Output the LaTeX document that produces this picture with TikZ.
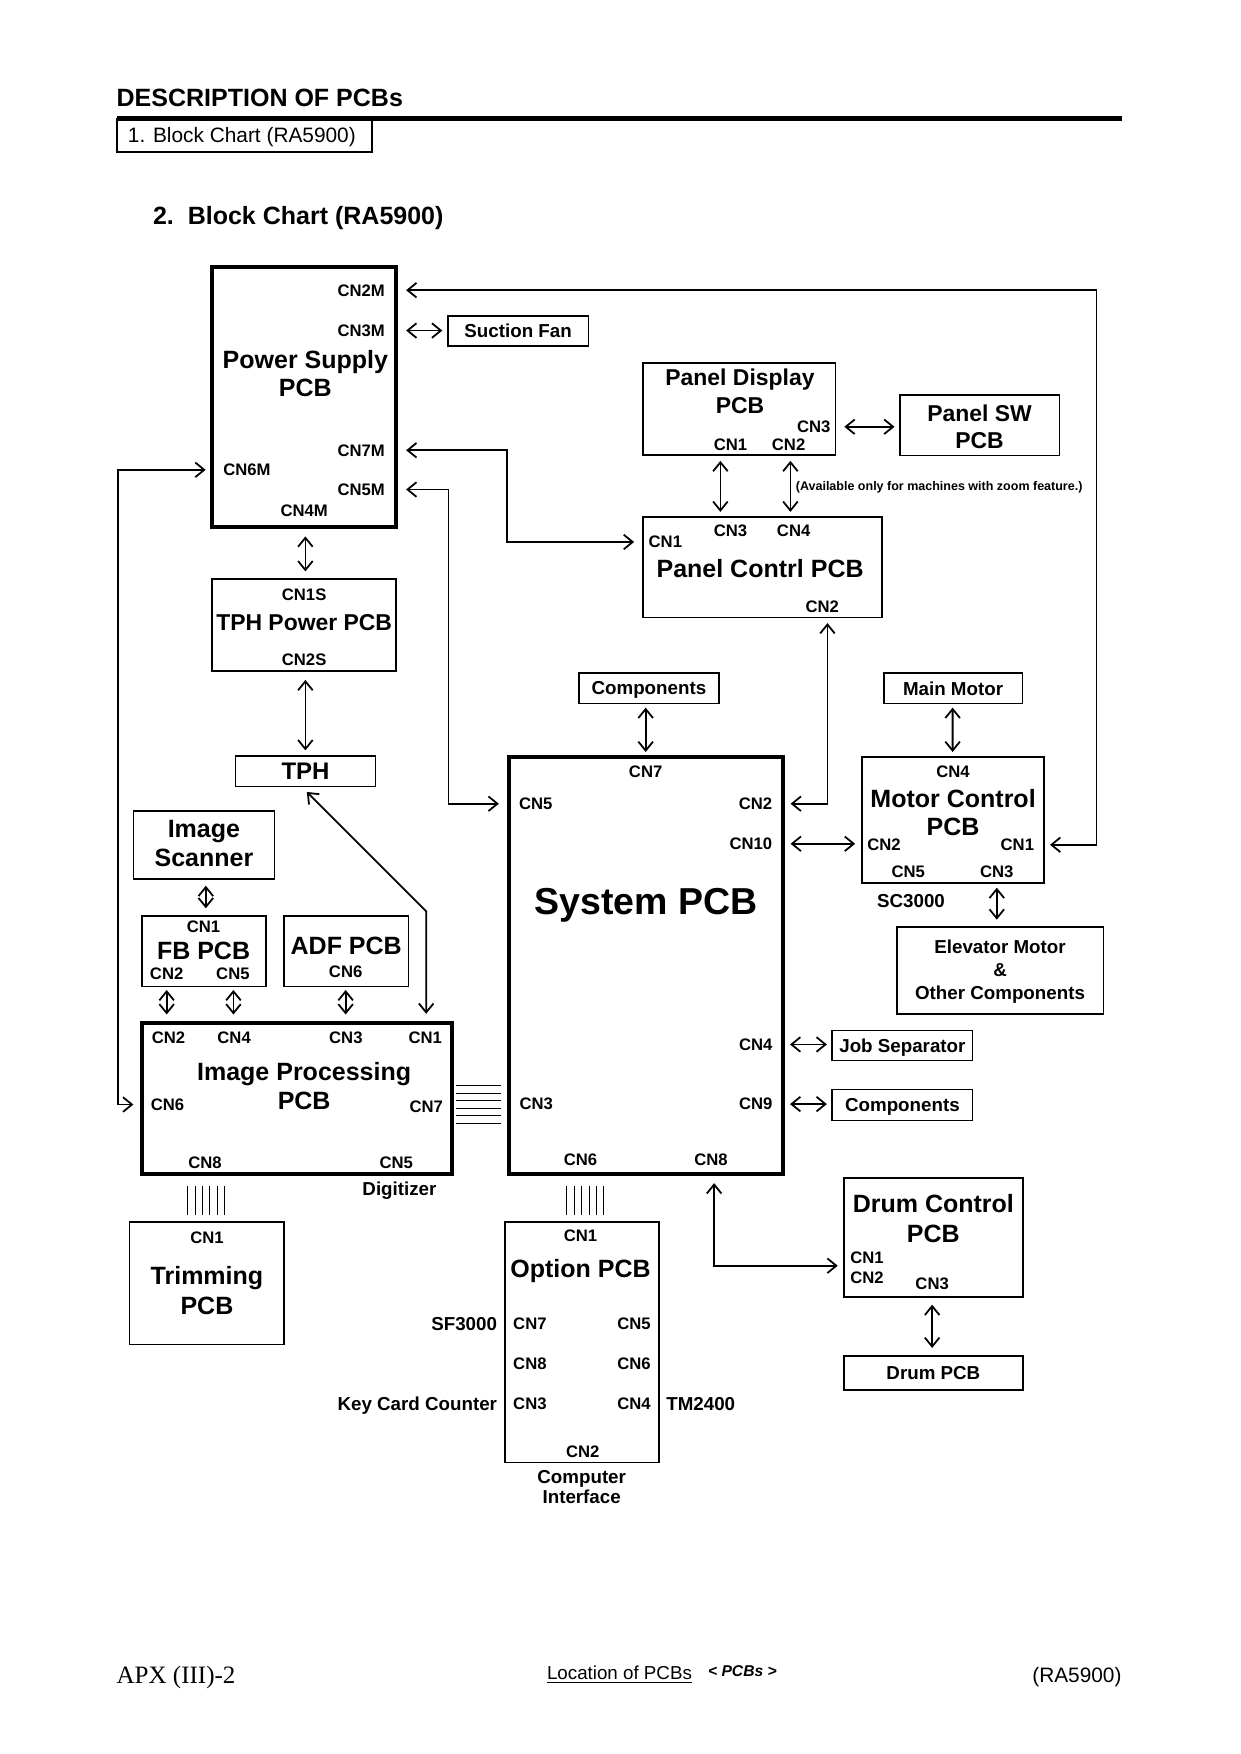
\documentclass[tikz,border=0pt]{standalone}
\usepackage{fontspec}
\setmainfont{Liberation Sans}
\newfontfamily\serifft{Liberation Serif}
\usetikzlibrary{arrows.meta,calc}
\newcommand\pxu{0.5367pt}
\tikzset{
  box/.style={draw, line width=0.8pt, inner sep=0pt, outer sep=0pt, text depth=0pt},
  tbox/.style={box, line width=1.9pt},
  sz/.style 2 args={minimum width=#1*\pxu, minimum height=#2*\pxu},
  lbl/.style={inner sep=0pt, outer sep=0pt, text depth=0pt},
  tcn/.style={lbl, font=\bfseries\fontsize{8}{9.6}\selectfont},
  tsml/.style={lbl, font=\bfseries\fontsize{9}{10.8}\selectfont},
  tmid/.style={lbl, font=\bfseries\fontsize{11}{13}\selectfont},
  tbig/.style={lbl, font=\bfseries\fontsize{12}{14}\selectfont},
  barb/.tip={Straight Barb[length=4.3pt,width=7pt]},
  con/.style={line width=0.85pt, barb-barb},
  bus/.style={line width=0.45pt},
}
\begin{document}
\begin{tikzpicture}[x=\pxu, y=-\pxu]
\useasboundingbox (0,0) rectangle (1109,1568);
% header
\node[lbl, anchor=west, font=\bfseries\fontsize{12}{14}\selectfont] (title) at (104.3,87) {DESCRIPTION OF PCBs};
\draw[line width=2pt] (104.3,106) -- (1002.6,106);
\node[box, sz={228.3}{30}] (hbox) at (218.45,121) {};
\node[lbl, anchor=west, font=\fontsize{10}{12}\selectfont] (htext) at (114.4,121) {1. Block Chart (RA5900)};
\node[lbl, anchor=west, font=\bfseries\fontsize{12}{14}\selectfont] (sub) at (136.8,193) {2.\ \ Block Chart (RA5900)};

% boxes
\node[tbox, sz={164.7}{233}] (ps) at (271.7,355) {};
\node[box, sz={125.6}{26.8}, font=\bfseries\fontsize{9}{10.8}\selectfont] (sfan) at (463.2,296) {Suction Fan};
\node[box, sz={164.7}{82}] (tphp) at (271.7,558.8) {};
\node[box, sz={125.2}{27.2}, font=\bfseries\fontsize{11.5}{13}\selectfont] (tph) at (273.1,689.4) {TPH};
\node[box, sz={126.1}{60.6}] (isc) at (182.3,755.3) {};
\node[box, sz={111.2}{62.8}] (fb) at (182.3,850.4) {};
\node[box, sz={111.5}{62.8}] (adf) at (309.5,850.4) {};
\node[tbox, sz={277.3}{134.8}] (ip) at (265.4,982) {};
\node[box, sz={138.1}{109.4}] (trim) at (184.9,1147.3) {};
\node[tbox, sz={245.3}{372.7}] (sys) at (577.6,863) {};
\node[box, sz={124.8}{27.4}, font=\bfseries\fontsize{9}{10.8}\selectfont] (compa) at (580.1,615.3) {Components};
\node[box, sz={172}{82.6}] (pd) at (660.8,365.7) {};
\node[box, sz={142.7}{53.7}] (psw) at (875.7,380.2) {};
\node[box, sz={213.7}{90}] (pc) at (681.7,507) {};
\node[box, sz={124}{27.4}, font=\bfseries\fontsize{9}{10.8}\selectfont] (mm) at (852,615.3) {Main Motor};
\node[box, sz={162.5}{112.7}] (mc) at (851.9,733) {};
\node[box, sz={184.7}{77.5}] (elev) at (894,867.5) {};
\node[box, sz={125.4}{26.8}, font=\bfseries\fontsize{9}{10.8}\selectfont] (job) at (806.7,934.6) {Job Separator};
\node[box, sz={125.4}{27.7}, font=\bfseries\fontsize{9}{10.8}\selectfont] (compb) at (806.7,987.8) {Components};
\node[box, sz={137.7}{214.7}] (opt) at (520.5,1200) {};
\node[box, sz={159.8}{106.4}] (dc) at (834.4,1106.5) {};
\node[box, sz={159.8}{30.4}, font=\bfseries\fontsize{9}{10.8}\selectfont] (drum) at (834.4,1227.1) {Drum PCB};

% power supply labels
\node[tcn, anchor=east] (cn2m) at (344,259.4) {CN2M};
\node[tcn, anchor=east] (cn3m) at (344,295.5) {CN3M};
\node[tbig] (psa) at (273,321.4) {Power Supply};
\node[tbig] (psb) at (273,347) {PCB};
\node[tcn, anchor=east] (cn7m) at (344,402.5) {CN7M};
\node[tcn, anchor=west] (cn6m) at (199.7,420) {CN6M};
\node[tcn, anchor=east] (cn5m) at (344,437.6) {CN5M};
\node[tcn] (cn4m) at (272,456.5) {CN4M};

% TPH power
\node[tcn] (cn1s) at (271.9,531.6) {CN1S};
\node[tmid] (tphpt) at (271.9,556.6) {TPH Power PCB};
\node[tcn] (cn2s) at (271.9,589.7) {CN2S};

% image scanner, FB, ADF
\node[tbig] (isca) at (182.3,740.8) {Image};
\node[tbig] (iscb) at (182.3,767) {Scanner};
\node[tcn] (fbcn1) at (182,828.8) {CN1};
\node[tbig] (fbt) at (182,849.7) {FB PCB};
\node[tcn] (fbcn2) at (149,870.5) {CN2};
\node[tcn] (fbcn5) at (208.2,870.5) {CN5};
\node[tbig] (adft) at (309.5,845.2) {ADF PCB};
\node[tcn] (adfcn6) at (309,869) {CN6};

% image processing
\node[tcn] (ipcn2) at (150.6,927.2) {CN2};
\node[tcn] (ipcn4) at (209.3,927.2) {CN4};
\node[tcn] (ipcn3) at (309.2,927.2) {CN3};
\node[tcn] (ipcn1) at (380.1,927.2) {CN1};
\node[tbig] (ipa) at (271.9,957.6) {Image Processing};
\node[tbig] (ipb) at (271.9,983.8) {PCB};
\node[tcn, anchor=west] (ipcn6) at (134.8,987.4) {CN6};
\node[tcn, anchor=east] (ipcn7) at (395.9,988.9) {CN7};
\node[tcn] (ipcn8) at (183.3,1039) {CN8};
\node[tcn] (ipcn5) at (354.2,1039) {CN5};
\node[tsml] (digi) at (357.1,1062.8) {Digitizer};

% trimming
\node[tcn] (trcn1) at (185,1106) {CN1};
\node[tbig] (tra) at (185,1140.3) {Trimming};
\node[tbig] (trb) at (185,1167.2) {PCB};

% system
\node[tcn] (scn7) at (577.2,690.2) {CN7};
\node[tcn, anchor=west] (scn5) at (464,718.5) {CN5};
\node[tcn, anchor=east] (scn2) at (690.3,718.5) {CN2};
\node[tcn, anchor=east] (scn10) at (690.3,754.3) {CN10};
\node[lbl, font=\bfseries\fontsize{18}{21}\selectfont] (systxt) at (577.5,805.5) {System PCB};
\node[tcn, anchor=east] (scn4) at (690.5,933.7) {CN4};
\node[tcn, anchor=west] (scn3) at (464.5,987) {CN3};
\node[tcn, anchor=east] (scn9) at (690.5,987) {CN9};
\node[tcn] (scn6) at (519,1036.3) {CN6};
\node[tcn] (scn8) at (635.6,1036.3) {CN8};

% panel display / SW / control
\node[tmid] (pda) at (661.5,337) {Panel Display};
\node[tmid] (pdb) at (661.5,362.2) {PCB};
\node[tcn, anchor=east] (pdcn3) at (742.3,381.5) {CN3};
\node[tcn] (pdcn1) at (653,397.1) {CN1};
\node[tcn] (pdcn2) at (705,397.1) {CN2};
\node[tmid] (pswa) at (875.7,369.1) {Panel SW};
\node[tmid] (pswb) at (875.7,393.5) {PCB};
\node[tcn] (pccn3) at (653,474) {CN3};
\node[tcn] (pccn4) at (709.5,474) {CN4};
\node[tcn, anchor=west] (pccn1) at (579.9,484.5) {CN1};
\node[tbig] (pct) at (679.5,508.3) {Panel Contrl PCB};
\node[tcn] (pccn2) at (735,542) {CN2};
\node[lbl, anchor=west, font=\bfseries\fontsize{6}{7}\selectfont] (avail) at (711.5,434) {(Available only for machines with zoom feature.)};

% motor control
\node[tcn] (mccn4) at (852,690.2) {CN4};
\node[tbig] (mca) at (852,714) {Motor Control};
\node[tbig] (mcb) at (852,739.3) {PCB};
\node[tcn, anchor=west] (mccn2) at (775.3,755.2) {CN2};
\node[tcn, anchor=east] (mccn1) at (924.4,755.2) {CN1};
\node[tcn] (mccn5) at (812,779.6) {CN5};
\node[tcn] (mccn3) at (891.1,779.6) {CN3};
\node[tsml] (sc) at (814.4,805) {SC3000};
\node[tsml] (ela) at (894,846.7) {Elevator Motor};
\node[tsml] (elb) at (894,866.9) {\&};
\node[tsml] (elc) at (894,887.2) {Other Components};

% option
\node[tcn] (ocn1) at (519,1105) {CN1};
\node[tbig] (opta) at (519,1133.5) {Option PCB};
\node[tcn, anchor=west] (ocn7) at (458.8,1183.6) {CN7};
\node[tcn, anchor=east] (ocn5) at (581.7,1183.6) {CN5};
\node[tcn, anchor=west] (ocn8) at (458.8,1219.3) {CN8};
\node[tcn, anchor=east] (ocn6) at (581.7,1219.3) {CN6};
\node[tcn, anchor=west] (ocn3) at (458.8,1255) {CN3};
\node[tcn, anchor=east] (ocn4) at (581.7,1255) {CN4};
\node[tcn] (ocn2) at (521,1297.4) {CN2};
\node[tsml, anchor=east] (sf) at (444.3,1183.6) {SF3000};
\node[tsml, anchor=east] (kcc) at (444.3,1255) {Key Card Counter};
\node[tsml, anchor=west] (tm) at (595.7,1255) {TM2400};
\node[tsml] (cia) at (520,1320) {Computer};
\node[tsml] (cib) at (520,1338) {Interface};

% drum control
\node[tbig] (dca) at (834.4,1076.2) {Drum Control};
\node[tbig] (dcb) at (834.4,1102.5) {PCB};
\node[tcn, anchor=west] (dccn1) at (760.2,1124.5) {CN1};
\node[tcn, anchor=west] (dccn2) at (760.2,1141.8) {CN2};
\node[tcn] (dccn3) at (833.3,1147.2) {CN3};

% connectors
\draw[con] ($(ps.east|-cn2m)+(9,0)$) -| ($(mc.east)+(47,0)$) |- ($(mc.east|-mccn1)+(5.5,0)$);
\draw[con] ($(ps.east|-cn3m)+(9,0)$) -- ($(sfan.west|-cn3m)+(-5,0)$);
\draw[con] ($(ps.east|-cn7m)+(9,0)$) -| ($(pc.west|-pccn1)+(-121.5,0)$) -- ($(pc.west|-pccn1)+(-8,0)$);
\draw[con] ($(ps.east|-cn5m)+(9,0)$) -| ($(sys.west|-scn5)+(-54,0)$) -- ($(sys.west|-scn5)+(-9,0)$);
\draw[con] ($(ip.west|-ipcn6)+(-7.5,0)$) -- ++(-14,0) |- ($(ps.west|-cn6m)+(-5.5,0)$);
\draw[con] ($(ps.south)+(1.3,8)$) -- ($(tphp.north)+(1.3,-7)$);
\draw[con] ($(tphp.south)+(1.3,8)$) -- ($(tphp.south|-tph.north)+(1.3,-5)$);
\draw[con] ($(tph.south)+(1.2,5)$) -- ($(ip.north-|ipcn1)+(0.9,-100)$) -- ($(ip.north-|ipcn1)+(0.9,-8.3)$);
\draw[con] ($(isc.south)+(1.7,6.2)$) -- ($(fb.north)+(1.7,-7)$);
\draw[con] ($(fb.south-|fbcn2)+(0,3.2)$) -- ($(ip.north-|fbcn2)+(0,-7.7)$);
\draw[con] ($(fb.south-|fbcn5)+(0.5,3.2)$) -- ($(ip.north-|fbcn5)+(0.5,-7.7)$);
\draw[con] ($(adf.south-|adfcn6)+(0,3.2)$) -- ($(ip.north-|adfcn6)+(0,-7.7)$);
\draw[con] ($(compa.south-|scn7)+(0,3.6)$) -- ($(sys.north-|scn7)+(0,-4.4)$);
\draw[con] ($(pd.east|-pdcn3)+(8,0)$) -- ($(psw.west|-pdcn3)+(-4.7,0)$);
\draw[con] ($(pd.south)+(-16.8,5)$) -- ($(pd.south|-pc.north)+(-16.8,-4.4)$);
\draw[con] ($(pd.south)+(45.8,5)$) -- ($(pd.south|-pc.north)+(45.8,-4.4)$);
\draw[con] ($(pc.south)+(58,5)$) |- ($(sys.east|-scn2)+(6.5,0)$);
\draw[con] ($(mm.south)+(-0.4,3.6)$) -- ($(mc.north)+(-0.3,-4.4)$);
\draw[con] ($(sys.east|-scn10)+(6.5,0)$) -- ($(mc.west|-scn10)+(-6.2,0)$);
\draw[con] ($(mc.south-|mccn3)+(0,4.2)$) -- ($(elev.north-|mccn3)+(0,-6.6)$);
\draw[con] ($(sys.east|-scn4)+(6,0)$) -- ($(job.west|-scn4)+(-4.8,0)$);
\draw[con] ($(sys.east|-scn9)+(6,0)$) -- ($(compb.west|-scn9)+(-4.8,0)$);
\draw[con] ($(sys.south-|scn8)+(2.8,8.3)$) |- ($(dc.west)+(-5.6,25)$);
\draw[con] ($(dc.south-|dccn3)+(0,6.6)$) -- ($(drum.north-|dccn3)+(0,-6.9)$);

% bus lines
\foreach \k in {0,...,5} {
  \draw[bus] (407.8,{970.7+6.68*\k}) -- (447.8,{970.7+6.68*\k});
  \draw[bus] ({167.8+6.62*\k},1060) -- ({167.8+6.62*\k},1086);
  \draw[bus] ({506.7+6.64*\k},1060) -- ({506.7+6.64*\k},1086);
}

% footer
\node[lbl, anchor=west, font=\serifft\fontsize{12}{14}\selectfont] (fpage) at (104.3,1497) {APX (III)-2};
\node[lbl, anchor=west, font=\fontsize{9}{11}\selectfont] (floc) at (489,1495) {\underline{Location of PCBs}};
\node[lbl, anchor=west, font=\bfseries\itshape\fontsize{7.5}{9}\selectfont] (fpcb) at (633,1494) {< PCBs >};
\node[lbl, anchor=east, font=\fontsize{10}{12}\selectfont] (fmodel) at (1002.6,1497) {(RA5900)};
\end{tikzpicture}
\end{document}
